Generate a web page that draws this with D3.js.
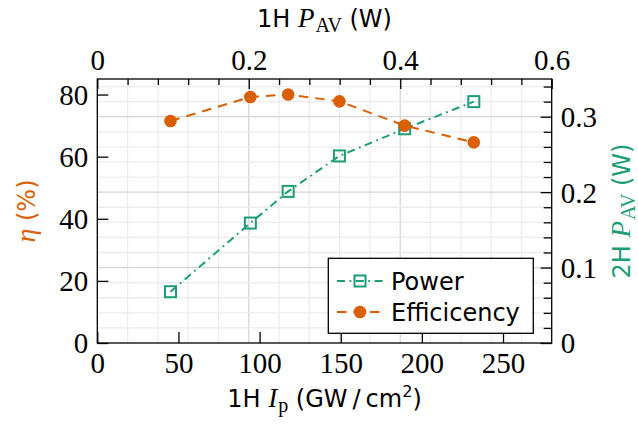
<!DOCTYPE html>
<html>
<head>
<meta charset="utf-8">
<script src="https://cdn.jsdelivr.net/npm/d3@7"></script>
<style>
  html, body { margin: 0; padding: 0; background: #fff; }
  svg { display: block; }
</style>
</head>
<body>
<svg id="chart" width="638" height="427"></svg>
<script>
// ---- data ----
const intensity = [45.1, 94.3, 117.6, 149.2, 189.4, 232.0];          // 1H I_p (GW/cm^2)
const efficiency = [71.5, 79.2, 80.0, 77.8, 70.0, 64.6];            // eta (%)
const power = [0.068, 0.159, 0.201, 0.248, 0.284, 0.320];           // 2H P_AV (W)
const bottomTicks = [0, 50, 100, 150, 200, 250];
const leftTicks = [0, 20, 40, 60, 80];
const topTicks = [0, 0.2, 0.4, 0.6];
const rightTicks = [0, 0.1, 0.2, 0.3];
const seriesNames = ["Power", "Efficicency"];

const ORANGE = "#d95f02", GREEN = "#1b9e77";
const SERIF = "'Liberation Serif', 'DejaVu Serif', serif";
const SANS = "'DejaVu Sans', sans-serif";

const svg = d3.select("#chart");
const L = 97.3, R = 551.7, T = 79, B = 343;

const x = d3.scaleLinear().domain([0, 280]).range([L, R]);
const xTop = d3.scaleLinear().domain([0, 0.6]).range([L, R]);
const yL = d3.scaleLinear().domain([0, 85]).range([B, T]);
const yR = d3.scaleLinear().domain([0, 0.35]).range([B, T]);

// minor grid positions
const topMinor = d3.range(0, 0.6001, 0.04).map(v => +v.toFixed(2));
const rightMinor = d3.range(0, 0.3501, 0.02).map(v => +v.toFixed(2));
const isMajorTop = v => topTicks.some(t => Math.abs(t - v) < 1e-6);
const isMajorRight = v => rightTicks.some(t => Math.abs(t - v) < 1e-6);

// grid
const grid = svg.append("g");
grid.selectAll("line.v").data(topMinor.filter(v => v > 0 && v < 0.6)).join("line")
  .attr("x1", d => xTop(d)).attr("x2", d => xTop(d)).attr("y1", T).attr("y2", B)
  .attr("stroke", d => isMajorTop(d) ? "#d6d6d6" : "#ececec").attr("stroke-width", 1.3);
grid.selectAll("line.h").data(rightMinor.filter(v => v > 0 && v < 0.35)).join("line")
  .attr("y1", d => yR(d)).attr("y2", d => yR(d)).attr("x1", L).attr("x2", R)
  .attr("stroke", d => isMajorRight(d) ? "#d6d6d6" : "#ececec").attr("stroke-width", 1.3);

// axes (inward ticks)
function styleAxis(g) {
  g.select(".domain").remove();
  g.selectAll(".tick line").attr("stroke", "#000").attr("stroke-width", 1.3);
  g.selectAll(".tick text").attr("font-family", SERIF).attr("font-size", 29).attr("fill", "#000");
}
const axB = svg.append("g").attr("transform", `translate(0,${B})`)
  .call(d3.axisBottom(x).tickValues(bottomTicks).tickSizeInner(-11).tickSizeOuter(0).tickPadding(0).tickFormat(d3.format("d")));
styleAxis(axB);
axB.selectAll(".tick text").attr("dy", null).attr("y", 30);

const axL = svg.append("g").attr("transform", `translate(${L},0)`)
  .call(d3.axisLeft(yL).tickValues(leftTicks).tickSizeInner(-11).tickSizeOuter(0).tickPadding(0).tickFormat(d3.format("d")));
styleAxis(axL);
axL.selectAll(".tick text").attr("x", -9).attr("dy", "0.34em");

const axT = svg.append("g").attr("transform", `translate(0,${T})`)
  .call(d3.axisTop(xTop).tickValues(topMinor).tickSizeInner(-6).tickSizeOuter(0).tickPadding(0)
    .tickFormat(d => isMajorTop(d) ? d3.format("~g")(d) : ""));
styleAxis(axT);
axT.selectAll(".tick line").attr("y2", d => isMajorTop(d) ? 10 : 6);
axT.selectAll(".tick text").attr("dy", null).attr("y", -9);

const axR = svg.append("g").attr("transform", `translate(${R},0)`)
  .call(d3.axisRight(yR).tickValues(rightMinor).tickSizeInner(-8).tickSizeOuter(0).tickPadding(0)
    .tickFormat(d => isMajorRight(d) ? d3.format("~g")(d) : ""));
styleAxis(axR);
axR.selectAll(".tick line").attr("x2", d => isMajorRight(d) ? -11 : -8);
axR.selectAll(".tick text").attr("x", 9).attr("dy", "0.34em");

// frame
svg.append("rect").attr("x", L).attr("y", T).attr("width", R - L).attr("height", B - T)
  .attr("fill", "none").attr("stroke", "#000").attr("stroke-width", 1.3);

// lines
const pLine = d3.line().x((d, i) => x(intensity[i])).y(d => yR(d));
const eLine = d3.line().x((d, i) => x(intensity[i])).y(d => yL(d));
const DASHDOT = "8,4.5,1.8,4.5", DASH = "9.5,7";

svg.append("path").datum(power).attr("d", pLine).attr("fill", "none")
  .attr("stroke", GREEN).attr("stroke-width", 2).attr("stroke-dasharray", DASHDOT);
svg.append("g").selectAll("rect").data(power).join("rect")
  .attr("x", (d, i) => x(intensity[i]) - 5.5).attr("y", d => yR(d) - 5.5)
  .attr("width", 11).attr("height", 11).attr("fill", "none")
  .attr("stroke", GREEN).attr("stroke-width", 2);

svg.append("path").datum(efficiency).attr("d", eLine).attr("fill", "none")
  .attr("stroke", ORANGE).attr("stroke-width", 2).attr("stroke-dasharray", DASH);
svg.append("g").selectAll("circle").data(efficiency).join("circle")
  .attr("cx", (d, i) => x(intensity[i])).attr("cy", d => yL(d)).attr("r", 6.3)
  .attr("fill", ORANGE);

// legend
const lg = svg.append("g");
lg.append("rect").attr("x", 328.3).attr("y", 258.3).attr("width", 205).attr("height", 75)
  .attr("fill", "#fff").attr("stroke", "#000").attr("stroke-width", 1.3);
const rows = [
  { name: seriesNames[0], color: GREEN, dash: DASHDOT, marker: "square", y: 281 },
  { name: seriesNames[1], color: ORANGE, dash: DASH, marker: "circle", y: 312 }
];
rows.forEach(r => {
  lg.append("line").attr("x1", 337).attr("x2", 383).attr("y1", r.y).attr("y2", r.y)
    .attr("stroke", r.color).attr("stroke-width", 2).attr("stroke-dasharray", r.dash);
  if (r.marker === "square") {
    lg.append("rect").attr("x", 360 - 5.5).attr("y", r.y - 5.5).attr("width", 11).attr("height", 11)
      .attr("fill", "none").attr("stroke", r.color).attr("stroke-width", 2);
  } else {
    lg.append("circle").attr("cx", 360).attr("cy", r.y).attr("r", 6.3).attr("fill", r.color);
  }
  lg.append("text").attr("x", 391).attr("y", r.y).attr("dy", "0.36em")
    .attr("font-family", SANS).attr("font-size", 24).attr("fill", "#000").text(r.name);
});

// axis titles
const TFS = 24;
function pav(text, prefix, color) {
  text.attr("font-family", SANS).attr("font-size", TFS).attr("fill", color).attr("text-anchor", "middle");
  text.append("tspan").text(prefix + " ");
  text.append("tspan").attr("font-family", SERIF).attr("font-style", "italic").attr("font-size", 27).text("P");
  text.append("tspan").attr("font-family", SERIF).attr("font-size", 20).attr("dy", 5).attr("dx", 1).text("AV");
  text.append("tspan").attr("dy", -5).text(" (W)");
}
pav(svg.append("text").attr("x", (L + R) / 2).attr("y", 27), "1H", "#000");

const bt = svg.append("text").attr("x", (L + R) / 2).attr("y", 407)
  .attr("font-family", SANS).attr("font-size", TFS).attr("fill", "#000").attr("text-anchor", "middle");
bt.append("tspan").text("1H ");
bt.append("tspan").attr("font-family", SERIF).attr("font-style", "italic").attr("font-size", 27).text("I");
bt.append("tspan").attr("font-family", SERIF).attr("font-size", 20).attr("dy", 5).attr("dx", 1).text("p");
bt.append("tspan").attr("dy", -5).text(" (GW");
bt.append("tspan").text("/").attr("dx", 5);
bt.append("tspan").text("cm").attr("dx", 5);
bt.append("tspan").attr("font-size", 16).attr("dy", -10).text("2");
bt.append("tspan").attr("dy", 10).text(")");

const lt = svg.append("text").attr("transform", `translate(35,${(T + B) / 2}) rotate(-90)`)
  .attr("font-family", SANS).attr("font-size", 24).attr("fill", ORANGE).attr("text-anchor", "middle");
lt.append("tspan").attr("font-family", SERIF).attr("font-style", "italic").attr("font-size", 28).text("η");
lt.append("tspan").text(" (%)");

pav(svg.append("text").attr("transform", `translate(630,${(T + B) / 2}) rotate(-90)`), "2H", GREEN);
</script>
</body>
</html>
